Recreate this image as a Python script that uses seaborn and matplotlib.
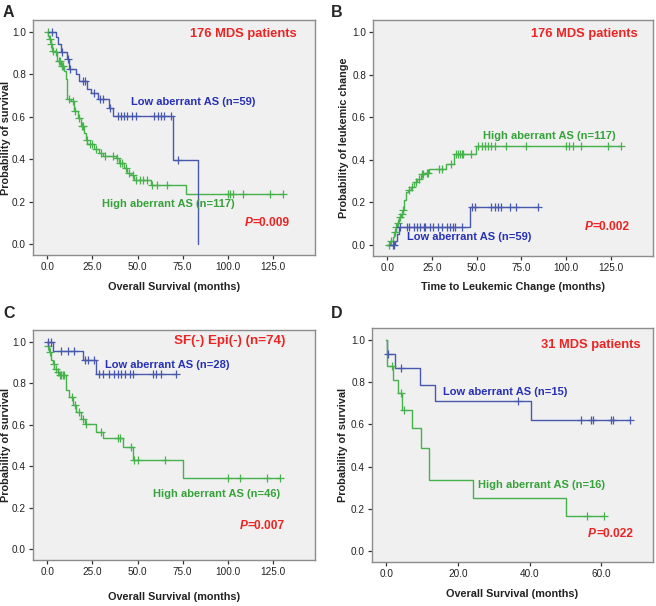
import matplotlib
matplotlib.use("Agg")
import matplotlib.pyplot as plt
import numpy as np
import seaborn as sns

# ---- data ----
# A: overall survival, 176 MDS patients
a_low_t = [0, 5.0, 6.1, 7.4, 11.1, 12.0, 15.7, 17.6, 22.2, 24.1, 27.8, 34.2, 36.4, 69.8, 83.7]
a_low_s = [1.0, 0.975, 0.943, 0.904, 0.872, 0.825, 0.80, 0.769, 0.73, 0.714, 0.682, 0.643, 0.603, 0.398, 0.0]
a_low_c = [2.5, 7.9, 11.5, 12.5, 19.5, 21.0, 25.8, 29.0, 31.0, 35.0, 38.9, 40.7, 42.6, 44.4,
           47.2, 49.1, 59.2, 61.1, 62.9, 64.8, 68.5, 72.6]
a_high_t = [0, 0.5, 0.9, 1.8, 2.8, 4.6, 5.5, 7.4, 9.3, 10.2, 10.7, 11.1, 13.0, 14.8, 16.7, 18.5,
            20.4, 21.3, 22.2, 25.9, 28.7, 30.6, 38.0, 39.8, 42.6, 44.4, 46.3, 48.1, 57.4, 76.8]
a_high_s = [1.0, 0.983, 0.967, 0.943, 0.912, 0.904, 0.865, 0.841, 0.817, 0.78, 0.72, 0.683, 0.675,
            0.628, 0.596, 0.557, 0.525, 0.493, 0.47, 0.446, 0.43, 0.414, 0.406, 0.382, 0.359, 0.335,
            0.327, 0.303, 0.28, 0.237]
a_high_c = [0.3, 1.2, 2.2, 3.3, 5.0, 6.3, 7.0, 8.0, 8.7, 12.0, 14.0, 15.5, 17.3, 19.2, 20.0, 21.8,
            23.5, 24.5, 27.0, 29.5, 32.0, 36.5, 38.8, 40.5, 41.5, 43.5, 45.5, 47.6, 49.4, 51.3, 53.1,
            55.0, 57.8, 60.6, 66.1, 100.3, 101.3, 102.8, 108.7, 123.5, 130.9]

# B: cumulative leukemic change
b_high_t = [0, 1.5, 2.9, 3.8, 4.7, 5.6, 6.6, 7.5, 8.5, 9.4, 10.3, 11.5, 13.1, 15.0, 16.5, 18.7,
            21.0, 23.4, 32.7, 37.4, 49.5]
b_high_s = [0, 0.018, 0.036, 0.06, 0.083, 0.105, 0.13, 0.145, 0.162, 0.209, 0.248, 0.26, 0.272,
            0.295, 0.31, 0.335, 0.34, 0.358, 0.382, 0.429, 0.465]
b_high_c = [1.0, 2.2, 4.2, 5.0, 6.0, 7.0, 8.0, 9.0, 12.0, 14.0, 16.0, 17.5, 19.5, 20.2, 22.0, 22.8,
            29.0, 30.5, 35.5, 38.5, 39.5, 40.5, 41.5, 42.5, 47.0, 50.8, 52.7, 54.6, 56.4, 58.2, 60.1,
            66.6, 77.7, 99.9, 101.8, 103.6, 108.2, 123.1, 130.4]
b_low_t = [0, 4.5, 5.5, 6.6, 46.2]
b_low_s = [0, 0.02, 0.052, 0.083, 0.177]
b_low_c = [3.0, 4.0, 7.3, 11.0, 11.9, 14.7, 16.6, 18.4, 20.3, 21.2, 24.0, 25.8, 28.6, 30.4, 33.2,
           35.1, 36.9, 37.9, 41.6, 47.1, 49.0, 58.2, 60.1, 61.9, 63.8, 68.4, 72.1, 84.2]

# C: SF(-) Epi(-)
c_low_t = [0, 3.3, 19.6, 27.0]
c_low_s = [1.0, 0.958, 0.91, 0.846]
c_low_c = [0.5, 2.0, 7.6, 11.3, 15.0, 20.6, 22.4, 26.1, 28.9, 30.7, 34.4, 37.2, 39.1, 40.9, 42.8,
           45.6, 47.4, 58.5, 60.3, 63.1, 71.4]
c_high_t = [0, 0.2, 1.1, 2.0, 2.9, 3.9, 5.7, 6.7, 10.3, 12.2, 14.1, 15.9, 18.7, 20.6, 27.0, 30.7,
            41.8, 47.4, 75.3]
c_high_s = [1.0, 0.978, 0.95, 0.91, 0.894, 0.87, 0.854, 0.838, 0.766, 0.734, 0.694, 0.662, 0.63,
            0.606, 0.566, 0.534, 0.494, 0.43, 0.344]
c_high_c = [0.5, 1.5, 3.5, 4.6, 6.0, 7.0, 7.8, 8.5, 9.3, 13.5, 15.2, 17.5, 19.5, 21.5, 30.0, 39.1,
            40.5, 46.5, 48.0, 50.2, 65.0, 100.3, 106.8, 121.7, 129.1]

# D: 31 MDS patients
d_low_t = [0, 0.15, 2.5, 9.5, 13.5, 40.5]
d_low_s = [1.0, 0.933, 0.867, 0.788, 0.709, 0.619]
d_low_c = [0.5, 4.2, 36.8, 54.4, 57.3, 57.8, 62.8, 63.4, 68.2]
d_high_t = [0, 0.15, 1.9, 3.4, 4.5, 7.2, 9.8, 11.8, 24.2, 50.2]
d_high_s = [1.0, 0.875, 0.8125, 0.75, 0.67, 0.585, 0.49, 0.338, 0.253, 0.167]
d_high_c = [1.6, 4.0, 4.8, 56.1, 60.9]

BLUE_LINE = "#4858ac"
GREEN_LINE = "#46b24c"
BLUE_TXT = "#2630b8"
GREEN_TXT = "#36a23a"
RED = "#ec2424"

sns.set_style("white", rc={"axes.facecolor": "#f0f0f0", "axes.edgecolor": "#8c8c8c"})
plt.rcParams["font.family"] = ["Liberation Sans", "DejaVu Sans"]

W, H = 656, 606
fig = plt.figure(figsize=(W / 100, H / 100), dpi=100)


def px_axes(left, right, top, bottom):
    return fig.add_axes([left / W, 1 - bottom / H, (right - left) / W, (bottom - top) / H])


def km(ax, t, s, c, color):
    t = np.asarray(t, float)
    s = np.asarray(s, float)
    c = np.asarray(c, float)
    end = max(t.max(), c.max())
    xs = np.append(t, end)
    ys = np.append(s, s[-1])
    sns.lineplot(x=xs, y=ys, drawstyle="steps-post", estimator=None, sort=False,
                 color=color, lw=1.0, ax=ax)
    cy = s[np.searchsorted(t, c, side="right") - 1]
    sns.scatterplot(x=c, y=cy, marker="+", s=28, color=color, linewidth=0.9, ax=ax, zorder=3)


def style(ax, xticks, xlabel, ylabel, xlim, xlab_y, ylab_x):
    ax.set_xlim(*xlim)
    ax.set_ylim(-0.052, 1.057)
    ax.set_xticks(xticks)
    ax.set_xticklabels([f"{v:.1f}" for v in xticks])
    yt = [0, 0.2, 0.4, 0.6, 0.8, 1.0]
    ax.set_yticks(yt)
    ax.set_yticklabels([f"{v:.1f}" for v in yt])
    ax.tick_params(direction="out", length=3, width=0.9, color="#333333",
                   labelsize=7.2, labelcolor="#222222", pad=2,
                   bottom=True, left=True)
    ax.set_xlabel(xlabel, fontsize=7.8, fontweight="bold", color="#222222")
    ax.set_ylabel(ylabel, fontsize=7.8, fontweight="bold", color="#222222")
    ax.xaxis.set_label_coords(0.5, xlab_y)
    ax.yaxis.set_label_coords(ylab_x, 0.5)
    for sp in ax.spines.values():
        sp.set_linewidth(1.0)


def pval(ax, x, y, txt):
    t = ax.text(x, y, "=" + txt, transform=ax.transAxes, ha="right", va="center",
                color=RED, fontsize=8.6, fontweight="bold")
    ax.annotate("P", xy=(0, 0), xycoords=t, ha="right", va="bottom",
                color=RED, fontsize=8.6, fontweight="bold", style="italic")


def txt(ax, x, y, s, color, ha="left", size=8.0):
    ax.text(x, y, s, transform=ax.transAxes, ha=ha, va="center", color=color,
            fontsize=size, fontweight="bold")


long_ticks = [0, 25, 50, 75, 100, 125]
long_lim = (-8, 148.5)

# Panel A
ax = px_axes(33, 315, 20, 255)
km(ax, a_high_t, a_high_s, a_high_c, GREEN_LINE)
km(ax, a_low_t, a_low_s, a_low_c, BLUE_LINE)
style(ax, long_ticks, "Overall Survival (months)", "Probability of survival", long_lim, -0.115, -0.078)
txt(ax, 0.936, 0.94, "176 MDS patients", RED, ha="right", size=9.3)
txt(ax, 0.348, 0.652, "Low aberrant AS (n=59)", BLUE_TXT)
txt(ax, 0.244, 0.217, "High aberrant AS (n=117)", GREEN_TXT)
pval(ax, 0.911, 0.136, "0.009")

# Panel B
ax = px_axes(373, 653, 20, 256)
km(ax, b_high_t, b_high_s, b_high_c, GREEN_LINE)
km(ax, b_low_t, b_low_s, b_low_c, BLUE_LINE)
style(ax, long_ticks, "Time to Leukemic Change (months)", "Probability of leukemic change", long_lim,
      -0.11, -0.086)
txt(ax, 0.946, 0.94, "176 MDS patients", RED, ha="right", size=9.3)
txt(ax, 0.393, 0.508, "High aberrant AS (n=117)", GREEN_TXT)
txt(ax, 0.121, 0.08, "Low aberrant AS (n=59)", BLUE_TXT)
pval(ax, 0.918, 0.123, "0.002")

# Panel C
ax = px_axes(33, 315, 330, 560)
km(ax, c_high_t, c_high_s, c_high_c, GREEN_LINE)
km(ax, c_low_t, c_low_s, c_low_c, BLUE_LINE)
style(ax, long_ticks, "Overall Survival (months)", "Probability of survival", long_lim, -0.139, -0.078)
txt(ax, 0.894, 0.954, "SF(-) Epi(-) (n=74)", RED, ha="right", size=9.6)
txt(ax, 0.255, 0.846, "Low aberrant AS (n=28)", BLUE_TXT)
txt(ax, 0.876, 0.287, "High aberrant AS (n=46)", GREEN_TXT, ha="right")
pval(ax, 0.894, 0.148, "0.007")

# Panel D
ax = px_axes(372, 653, 328, 562)
km(ax, d_low_t, d_low_s, d_low_c, BLUE_LINE)
km(ax, d_high_t, d_high_s, d_high_c, GREEN_LINE)
style(ax, [0, 20, 40, 60], "Overall Survival (months)", "Probability of survival", (-4, 74.5),
      -0.115, -0.085)
txt(ax, 0.954, 0.927, "31 MDS patients", RED, ha="right", size=9.3)
txt(ax, 0.253, 0.726, "Low aberrant AS (n=15)", BLUE_TXT)
txt(ax, 0.377, 0.329, "High aberrant AS (n=16)", GREEN_TXT)
pval(ax, 0.929, 0.12, "0.022")

for letter, x, y in [("A", 3, 5), ("B", 331, 5), ("C", 3, 306), ("D", 331, 306)]:
    fig.text(x / W, 1 - y / H, letter, ha="left", va="top", fontsize=11.5, fontweight="bold")

fig.savefig("out.png", dpi=100)
